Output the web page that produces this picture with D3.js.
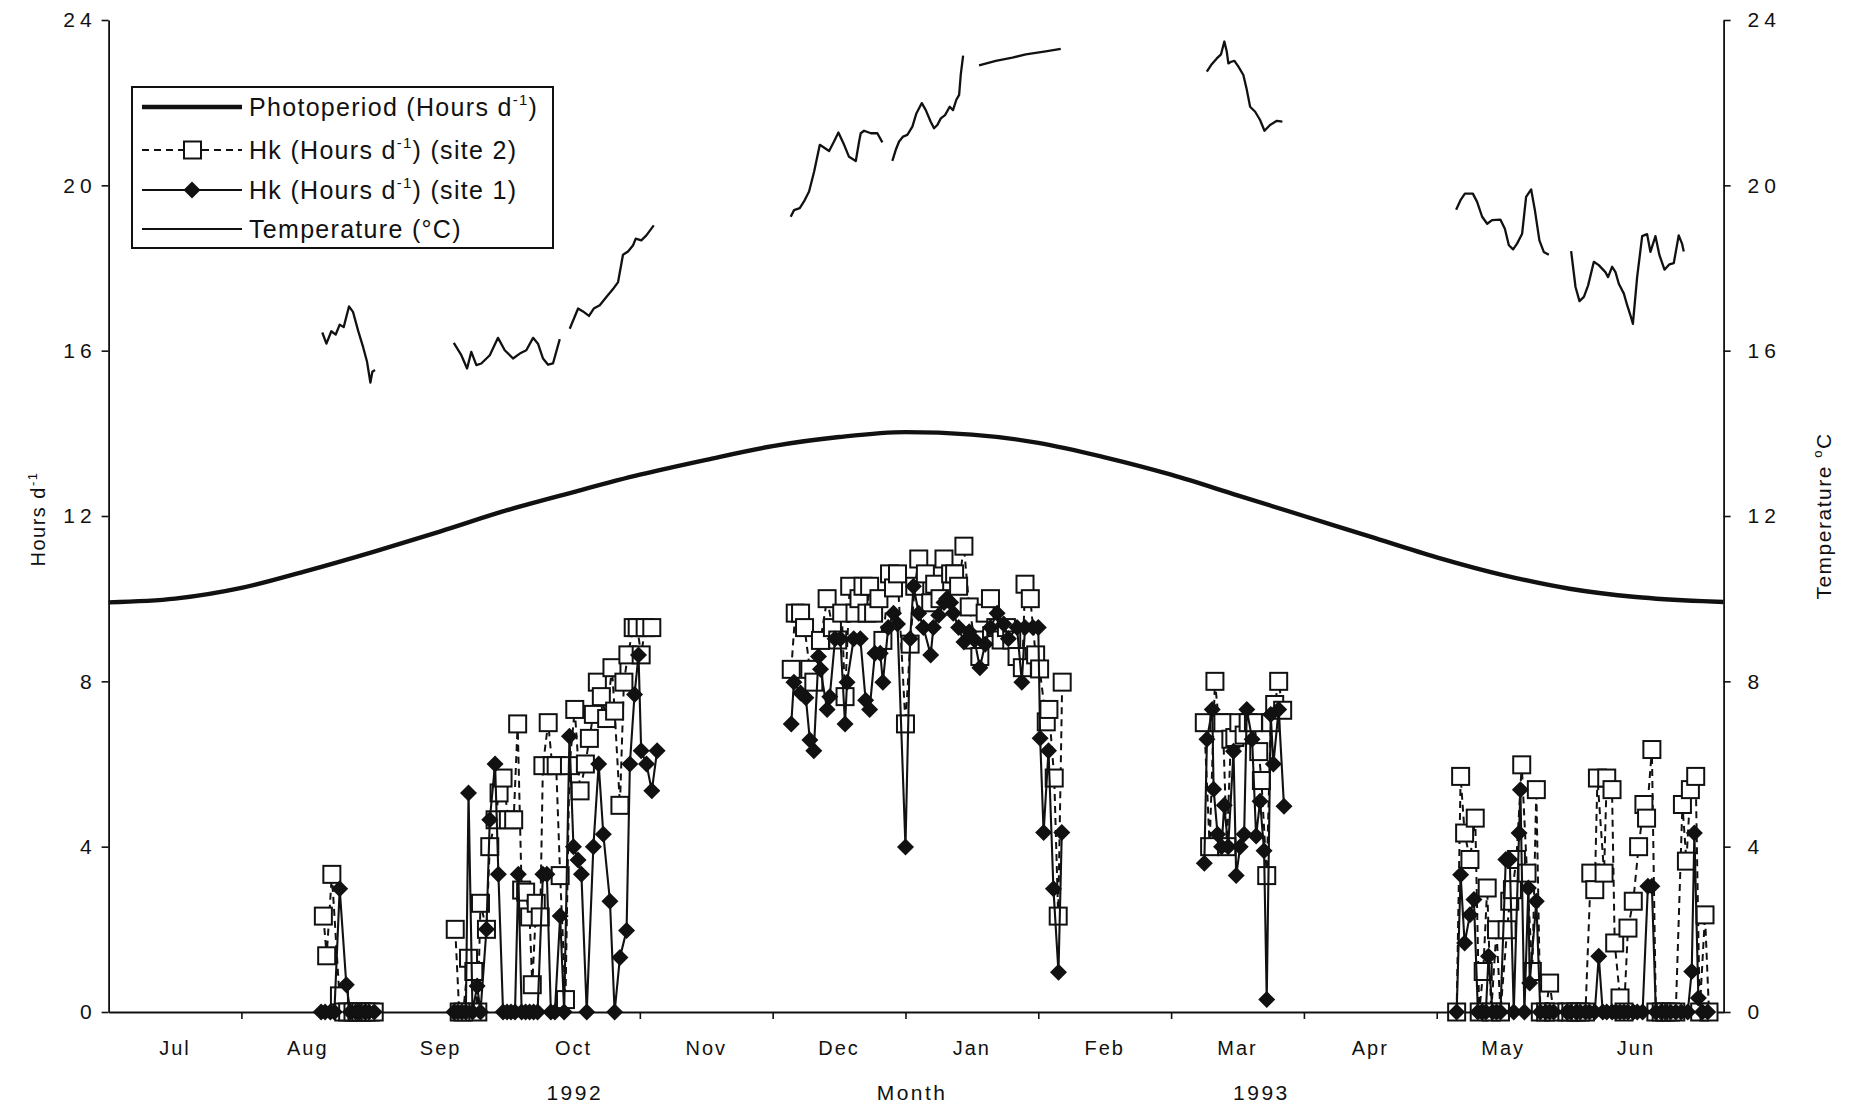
<!DOCTYPE html>
<html>
<head>
<meta charset="utf-8">
<script src="https://cdn.jsdelivr.net/npm/d3@7"></script>
<style>
  body { margin: 0; background: #fff; }
  text { font-family: "Liberation Sans", Arial, Helvetica, sans-serif; fill: #111; }
</style>
</head>
<body>
<svg id="chart" width="1851" height="1109"></svg>
<script>
// x values are month positions: 0 = start of Jul 1992, one unit per month

var monthLabels = ["Jul", "Aug", "Sep", "Oct", "Nov", "Dec", "Jan", "Feb", "Mar", "Apr", "May", "Jun"];
var yTicks = [0, 4, 8, 12, 16, 20, 24];
var bottomTitles = ["1992", "Month", "1993"];

var photoperiod = [
  [0, 9.91], [0.5, 10.0], [1, 10.26], [1.5, 10.68], [2, 11.14], [2.5, 11.63], [3, 12.14],
  [3.5, 12.58], [4, 13.0], [4.5, 13.36], [5, 13.69], [5.5, 13.91], [6, 14.03], [6.5, 13.97],
  [7, 13.77], [7.5, 13.42], [8, 13.0], [8.5, 12.5], [9, 12.0], [9.5, 11.5], [10, 11.0],
  [10.5, 10.57], [11, 10.24], [11.5, 10.04], [12, 9.94], [12.16, 9.92]
];

// temperature, one array per logger record (gaps between them)
var temperature = [
  [[1.609, 16.44], [1.640, 16.17], [1.677, 16.47], [1.710, 16.39], [1.740, 16.63], [1.770, 16.57],
   [1.810, 17.07], [1.840, 16.94], [1.878, 16.49], [1.916, 16.09], [1.946, 15.73], [1.971, 15.23],
   [1.986, 15.49], [2.006, 15.53]],
  [[2.599, 16.19], [2.656, 15.89], [2.699, 15.57], [2.731, 15.97], [2.769, 15.65], [2.806, 15.69],
   [2.870, 15.89], [2.932, 16.31], [2.983, 16.01], [3.045, 15.81], [3.096, 15.93], [3.145, 16.01],
   [3.196, 16.31], [3.233, 16.17], [3.271, 15.81], [3.309, 15.66], [3.346, 15.69], [3.397, 16.28]],
  [[3.472, 16.53], [3.535, 17.02], [3.572, 16.95], [3.617, 16.84], [3.653, 17.02], [3.698, 17.10],
   [3.748, 17.30], [3.798, 17.49], [3.836, 17.66], [3.873, 18.32], [3.911, 18.40], [3.949, 18.55],
   [3.969, 18.71], [4.011, 18.67], [4.049, 18.79], [4.105, 19.03]],
  [[5.136, 19.24], [5.161, 19.40], [5.204, 19.45], [5.236, 19.61], [5.274, 19.85], [5.312, 20.33],
   [5.355, 20.98], [5.425, 20.83], [5.462, 21.06], [5.495, 21.28], [5.538, 20.98], [5.575, 20.69],
   [5.626, 20.59], [5.651, 21.06], [5.663, 21.26], [5.688, 21.32], [5.739, 21.26], [5.788, 21.26],
   [5.826, 21.04]],
  [[5.901, 20.59], [5.927, 20.86], [5.952, 21.06], [5.982, 21.18], [6.014, 21.22], [6.052, 21.42],
   [6.082, 21.74], [6.123, 21.99], [6.153, 21.82], [6.190, 21.54], [6.215, 21.38], [6.240, 21.46],
   [6.266, 21.62], [6.298, 21.70], [6.333, 21.90], [6.358, 21.82], [6.383, 22.07], [6.404, 22.19],
   [6.416, 22.67], [6.434, 23.14]],
  [[6.554, 22.90], [6.680, 23.01], [6.805, 23.09], [6.906, 23.17], [7.056, 23.24], [7.169, 23.30]],
  [[8.269, 22.75], [8.306, 22.93], [8.344, 23.07], [8.376, 23.17], [8.401, 23.48], [8.419, 23.24],
   [8.431, 22.95], [8.452, 22.99], [8.477, 23.01], [8.507, 22.87], [8.544, 22.67], [8.570, 22.31],
   [8.595, 21.90], [8.633, 21.78], [8.670, 21.58], [8.703, 21.32], [8.745, 21.46], [8.796, 21.56],
   [8.838, 21.54]],
  [[10.146, 19.41], [10.179, 19.64], [10.212, 19.80], [10.272, 19.80], [10.304, 19.60], [10.342, 19.24],
   [10.380, 19.07], [10.417, 19.16], [10.480, 19.17], [10.513, 18.95], [10.543, 18.55], [10.575, 18.45],
   [10.605, 18.59], [10.643, 18.83], [10.673, 19.72], [10.711, 19.90], [10.739, 19.40], [10.773, 18.67],
   [10.806, 18.39], [10.844, 18.32]],
  [[11.012, 18.41], [11.045, 17.54], [11.075, 17.20], [11.108, 17.30], [11.140, 17.58], [11.183, 18.15],
   [11.220, 18.07], [11.270, 17.90], [11.290, 17.78], [11.321, 18.03], [11.346, 17.90], [11.371, 17.62],
   [11.409, 17.38], [11.434, 17.10], [11.459, 16.85], [11.477, 16.65], [11.509, 17.78], [11.547, 18.77],
   [11.584, 18.82], [11.609, 18.39], [11.647, 18.77], [11.677, 18.31], [11.715, 17.96], [11.752, 18.09],
   [11.785, 18.12], [11.822, 18.79], [11.847, 18.59], [11.86, 18.4]]
];

// Hk site 2 (open squares, dashed)
var hkSite2 = [
  [[1.617, 2.32], [1.642, 1.36], [1.681, 3.33], [1.738, 0.39], [1.77, 0], [1.80, 0], [1.84, 0],
   [1.87, 0], [1.90, 0], [1.94, 0], [1.97, 0], [2.00, 0]],
  [[2.61, 2.0], [2.64, 0], [2.67, 0], [2.71, 1.3], [2.75, 0.98], [2.78, 0], [2.80, 2.63], [2.845, 2.0],
   [2.87, 4.0], [2.91, 4.65], [2.94, 5.3], [2.97, 5.66], [3.01, 4.65], [3.05, 4.65], [3.08, 6.97],
   [3.11, 2.95], [3.14, 2.9], [3.17, 2.3], [3.19, 0.66], [3.22, 2.63], [3.25, 2.3], [3.27, 5.96],
   [3.31, 7.0], [3.34, 5.96], [3.37, 5.96], [3.40, 3.3], [3.44, 0.3], [3.47, 5.96], [3.51, 7.32],
   [3.55, 5.35], [3.59, 6.0], [3.62, 6.62], [3.65, 7.2], [3.68, 7.98], [3.71, 7.63], [3.75, 7.1],
   [3.79, 8.33], [3.81, 7.28], [3.85, 5.0], [3.88, 7.98], [3.91, 8.64], [3.95, 9.3], [3.98, 9.3],
   [4.01, 8.64], [4.04, 9.3], [4.09, 9.3]],
  [[5.14, 8.29], [5.17, 9.65], [5.21, 9.65], [5.24, 9.30], [5.28, 8.29], [5.31, 7.98], [5.36, 8.99],
   [5.41, 10.0], [5.45, 9.3], [5.49, 9.0], [5.52, 9.65], [5.545, 7.63], [5.58, 10.3], [5.62, 9.65],
   [5.65, 10.0], [5.68, 10.3], [5.71, 9.65], [5.73, 10.3], [5.76, 9.65], [5.80, 10.0], [5.83, 8.99],
   [5.88, 10.6], [5.91, 10.26], [5.94, 10.6], [6.00, 6.97], [6.035, 8.9], [6.07, 10.3], [6.10, 10.96],
   [6.15, 10.6], [6.19, 9.9], [6.22, 10.35], [6.26, 10.0], [6.29, 10.96], [6.34, 10.6], [6.37, 10.6],
   [6.40, 10.3], [6.44, 11.27], [6.48, 9.8], [6.52, 9.0], [6.56, 8.6], [6.60, 9.65], [6.64, 10.0],
   [6.68, 9.3], [6.72, 9.0], [6.76, 9.3], [6.80, 9.0], [6.84, 8.6], [6.88, 8.33], [6.90, 10.35],
   [6.94, 10.0], [6.98, 8.64], [7.01, 8.3], [7.06, 7.02], [7.08, 7.32], [7.12, 5.66], [7.15, 2.32],
   [7.18, 7.98]],
  [[8.25, 7.0], [8.29, 4.0], [8.33, 8.0], [8.36, 7.0], [8.39, 7.0], [8.42, 4.0], [8.45, 6.6],
   [8.48, 6.64], [8.51, 7.0], [8.55, 6.7], [8.58, 7.0], [8.62, 7.0], [8.66, 6.3], [8.68, 5.6],
   [8.72, 3.3], [8.75, 7.0], [8.78, 7.44], [8.81, 8.0], [8.84, 7.3]],
  [[10.15, 0], [10.18, 5.7], [10.21, 4.33], [10.25, 3.69], [10.29, 4.69], [10.32, 0], [10.35, 0.98],
   [10.38, 3.0], [10.41, 0], [10.45, 1.99], [10.48, 0], [10.53, 1.99], [10.55, 2.68], [10.57, 2.96],
   [10.60, 3.69], [10.64, 5.98], [10.68, 3.36], [10.72, 0.98], [10.75, 5.38], [10.78, 0], [10.82, 0],
   [10.85, 0.7], [10.88, 0], [10.98, 0], [11.01, 0], [11.05, 0], [11.08, 0], [11.12, 0], [11.16, 3.36],
   [11.19, 2.96], [11.21, 5.66], [11.26, 3.36], [11.28, 5.66], [11.32, 5.38], [11.34, 1.67],
   [11.38, 0.34], [11.41, 0], [11.44, 2.03], [11.48, 2.68], [11.52, 4.0], [11.56, 5.02], [11.58, 4.69],
   [11.62, 6.35], [11.65, 0], [11.69, 0], [11.72, 0], [11.76, 0], [11.80, 0], [11.85, 5.02],
   [11.88, 3.65], [11.91, 5.38], [11.95, 5.70], [11.98, 0], [12.02, 2.35], [12.05, 0]]
];

// Hk site 1 (filled diamonds, solid)
var hkSite1 = [
  [[1.60, 0], [1.63, 0], [1.67, 0], [1.70, 0], [1.74, 2.98], [1.79, 0.66], [1.82, 0], [1.86, 0],
   [1.89, 0], [1.93, 0], [1.96, 0], [2.00, 0]],
  [[2.60, 0], [2.63, 0], [2.66, 0], [2.69, 0], [2.71, 5.3], [2.74, 0], [2.775, 0.63], [2.80, 0],
   [2.845, 2.0], [2.87, 4.65], [2.91, 6.0], [2.935, 3.33], [2.97, 0], [3.00, 0], [3.03, 0], [3.06, 0],
   [3.085, 3.33], [3.11, 0], [3.14, 0], [3.17, 0], [3.20, 0], [3.23, 0], [3.27, 3.33], [3.30, 3.33],
   [3.33, 0], [3.36, 0], [3.40, 2.32], [3.43, 0], [3.47, 6.67], [3.50, 4.0], [3.535, 3.68], [3.56, 3.33],
   [3.60, 0], [3.65, 4.0], [3.69, 6.0], [3.725, 4.3], [3.775, 2.68], [3.81, 0], [3.85, 1.32],
   [3.90, 1.97], [3.925, 6.0], [3.96, 7.68], [3.99, 8.64], [4.01, 6.32], [4.05, 6.0], [4.09, 5.35],
   [4.13, 6.32]],
  [[5.14, 6.97], [5.16, 7.98], [5.21, 7.72], [5.25, 7.6], [5.28, 6.58], [5.31, 6.32], [5.345, 8.6],
   [5.36, 8.29], [5.41, 7.32], [5.43, 7.63], [5.47, 9.03], [5.51, 9.03], [5.545, 6.97], [5.56, 7.98],
   [5.61, 9.03], [5.66, 9.03], [5.70, 7.54], [5.73, 7.32], [5.77, 8.68], [5.81, 8.68], [5.83, 7.98],
   [5.87, 9.3], [5.91, 9.65], [5.94, 9.39], [6.00, 3.99], [6.035, 9.03], [6.06, 10.3], [6.10, 9.65],
   [6.135, 9.30], [6.19, 8.64], [6.21, 9.30], [6.25, 9.6], [6.29, 9.91], [6.31, 10.0], [6.34, 9.91],
   [6.36, 9.65], [6.40, 9.3], [6.44, 8.95], [6.48, 9.2], [6.52, 9.0], [6.56, 8.33], [6.60, 8.9],
   [6.64, 9.3], [6.69, 9.65], [6.74, 9.39], [6.775, 9.03], [6.84, 9.30], [6.876, 7.98], [6.90, 9.30],
   [6.96, 9.30], [7.00, 9.30], [7.014, 6.62], [7.04, 4.34], [7.077, 6.32], [7.114, 2.98], [7.152, 0.96],
   [7.177, 4.34]],
  [[8.25, 3.6], [8.27, 6.6], [8.31, 7.32], [8.32, 5.39], [8.35, 4.3], [8.38, 4.0], [8.40, 5.0],
   [8.43, 4.0], [8.47, 6.31], [8.49, 3.3], [8.52, 4.0], [8.55, 4.3], [8.57, 7.32], [8.61, 6.6],
   [8.64, 4.26], [8.67, 5.1], [8.70, 3.9], [8.72, 0.3], [8.75, 7.2], [8.77, 6.0], [8.81, 7.32],
   [8.85, 4.98]],
  [[10.15, 0], [10.18, 3.32], [10.21, 1.67], [10.25, 2.35], [10.28, 2.72], [10.31, 0], [10.34, 0],
   [10.37, 0], [10.39, 1.35], [10.42, 0], [10.45, 0], [10.48, 0], [10.52, 3.69], [10.55, 3.69],
   [10.58, 0], [10.62, 4.33], [10.63, 5.38], [10.66, 0], [10.69, 3.0], [10.70, 0.7], [10.75, 2.68],
   [10.78, 0], [10.82, 0], [10.85, 0], [10.88, 0], [10.98, 0], [11.01, 0], [11.05, 0], [11.08, 0],
   [11.12, 0], [11.15, 0], [11.19, 0], [11.22, 1.35], [11.25, 0], [11.28, 0], [11.32, 0], [11.35, 0],
   [11.38, 0], [11.41, 0], [11.44, 0], [11.48, 0], [11.51, 0], [11.55, 0], [11.59, 3.04], [11.62, 3.04],
   [11.65, 0], [11.69, 0], [11.72, 0], [11.76, 0], [11.80, 0], [11.84, 0], [11.89, 0], [11.92, 0.98],
   [11.94, 4.33], [11.97, 0.34], [12.0, 0], [12.04, 0]]
];

var svg = d3.select("#chart");

var x = d3.scaleLinear().domain([0, 12.16]).range([108.6, 1723.6]);
var y = d3.scaleLinear().domain([0, 24]).range([1012, 20]);

var line = d3.line().x(function(d) { return x(d[0]); }).y(function(d) { return y(d[1]); });

// axes
var left = svg.append("g").attr("transform", "translate(" + x(0) + ",0)")
  .call(d3.axisLeft(y).tickValues(yTicks).tickSize(7).tickSizeOuter(0).tickPadding(10));
var right = svg.append("g").attr("transform", "translate(" + x(12.16) + ",0)")
  .call(d3.axisRight(y).tickValues(yTicks).tickSize(7).tickSizeOuter(0).tickPadding(17));
var bottom = svg.append("g").attr("transform", "translate(0," + y(0) + ")")
  .call(d3.axisBottom(x).tickValues(d3.range(1, 13)).tickSize(7).tickSizeOuter(0).tickFormat(""));

[left, right, bottom].forEach(function(g) {
  g.select(".domain").attr("stroke", "#111").attr("stroke-width", 1.8);
  g.selectAll(".tick line").attr("stroke", "#111").attr("stroke-width", 1.6);
  g.selectAll(".tick text").attr("font-size", 21).attr("fill", "#111")
    .style("letter-spacing", "5px");
});
left.selectAll(".tick text").attr("dx", 5);

// month labels, centred in each month
svg.append("g").selectAll("text").data(monthLabels).enter().append("text")
  .attr("x", function(d, i) { return x(i + 0.5); })
  .attr("y", 1055)
  .attr("text-anchor", "middle")
  .attr("font-size", 20)
  .style("letter-spacing", "2px")
  .text(function(d) { return d; });

var titlePos = [3.51, 6.05, 8.68];
svg.append("g").selectAll("text").data(bottomTitles).enter().append("text")
  .attr("x", function(d, i) { return x(titlePos[i]); })
  .attr("y", 1100)
  .attr("text-anchor", "middle")
  .attr("font-size", 21)
  .style("letter-spacing", "2.5px")
  .text(function(d) { return d; });

// axis titles
var lt = svg.append("text")
  .attr("transform", "translate(45,519) rotate(-90)")
  .attr("text-anchor", "middle")
  .attr("font-size", 20)
  .style("letter-spacing", "1.5px");
lt.append("tspan").text("Hours d");
lt.append("tspan").attr("font-size", 13).attr("dy", -8).text("-1");

var rt = svg.append("text")
  .attr("transform", "translate(1831,516) rotate(-90)")
  .attr("text-anchor", "middle")
  .attr("font-size", 21)
  .style("letter-spacing", "1.5px");
rt.append("tspan").text("Temperature ");
rt.append("tspan").attr("font-size", 13).attr("dy", -9).text("o");
rt.append("tspan").attr("dy", 9).text("C");

// photoperiod
svg.append("path").datum(photoperiod)
  .attr("fill", "none").attr("stroke", "#111").attr("stroke-width", 4.4)
  .attr("d", line.curve(d3.curveMonotoneX));
line.curve(d3.curveLinear);

// temperature
svg.append("g").selectAll("path").data(temperature).enter().append("path")
  .attr("fill", "none").attr("stroke", "#111").attr("stroke-width", 2.3)
  .attr("stroke-linejoin", "round")
  .attr("d", line);

// site 2: dashed line with open squares
var s2 = svg.append("g");
s2.selectAll("path").data(hkSite2).enter().append("path")
  .attr("fill", "none").attr("stroke", "#111").attr("stroke-width", 2)
  .attr("stroke-dasharray", "7,5")
  .attr("d", line);
s2.selectAll("rect").data(d3.merge(hkSite2)).enter().append("rect")
  .attr("x", function(d) { return x(d[0]) - 8.5; })
  .attr("y", function(d) { return y(d[1]) - 8.5; })
  .attr("width", 17).attr("height", 17)
  .attr("fill", "#fff").attr("stroke", "#111").attr("stroke-width", 2);

// site 1: solid line with filled diamonds
var diamond = "M0,-8.5L8.5,0L0,8.5L-8.5,0Z";
var s1 = svg.append("g");
s1.selectAll("path.ln").data(hkSite1).enter().append("path").attr("class", "ln")
  .attr("fill", "none").attr("stroke", "#111").attr("stroke-width", 2.1)
  .attr("d", line);
s1.selectAll("path.mk").data(d3.merge(hkSite1)).enter().append("path").attr("class", "mk")
  .attr("transform", function(d) { return "translate(" + x(d[0]) + "," + y(d[1]) + ")"; })
  .attr("d", diamond).attr("fill", "#111");

// legend
var lg = svg.append("g");
lg.append("rect").attr("x", 132).attr("y", 87).attr("width", 421).attr("height", 161)
  .attr("fill", "#fff").attr("stroke", "#111").attr("stroke-width", 2);
var rows = [107, 150, 190, 229];
lg.append("line").attr("x1", 142).attr("x2", 242).attr("y1", rows[0]).attr("y2", rows[0])
  .attr("stroke", "#111").attr("stroke-width", 4.4);
lg.append("line").attr("x1", 142).attr("x2", 242).attr("y1", rows[1]).attr("y2", rows[1])
  .attr("stroke", "#111").attr("stroke-width", 2).attr("stroke-dasharray", "7,5");
lg.append("rect").attr("x", 184).attr("y", rows[1] - 8.5).attr("width", 17).attr("height", 17)
  .attr("fill", "#fff").attr("stroke", "#111").attr("stroke-width", 2);
lg.append("line").attr("x1", 142).attr("x2", 242).attr("y1", rows[2]).attr("y2", rows[2])
  .attr("stroke", "#111").attr("stroke-width", 2.1);
lg.append("path").attr("transform", "translate(192," + rows[2] + ")").attr("d", diamond).attr("fill", "#111");
lg.append("line").attr("x1", 142).attr("x2", 242).attr("y1", rows[3]).attr("y2", rows[3])
  .attr("stroke", "#111").attr("stroke-width", 2);

function legendText(row, parts) {
  var t = lg.append("text").attr("x", 249).attr("y", rows[row] + 9)
    .attr("font-size", 25).style("letter-spacing", "1.3px");
  parts.forEach(function(p) {
    var s = t.append("tspan").text(p[0]);
    if (p[1] === "sup") s.attr("font-size", 15).attr("dy", -11);
    if (p[1] === "down") s.attr("dy", 11);
  });
}
legendText(0, [["Photoperiod (Hours  d"], ["-1", "sup"], [")", "down"]]);
legendText(1, [["Hk (Hours  d"], ["-1", "sup"], [") (site  2)", "down"]]);
legendText(2, [["Hk (Hours  d"], ["-1", "sup"], [") (site  1)", "down"]]);
legendText(3, [["Temperature  (\u00B0C)"]]);
</script>
</body>
</html>
